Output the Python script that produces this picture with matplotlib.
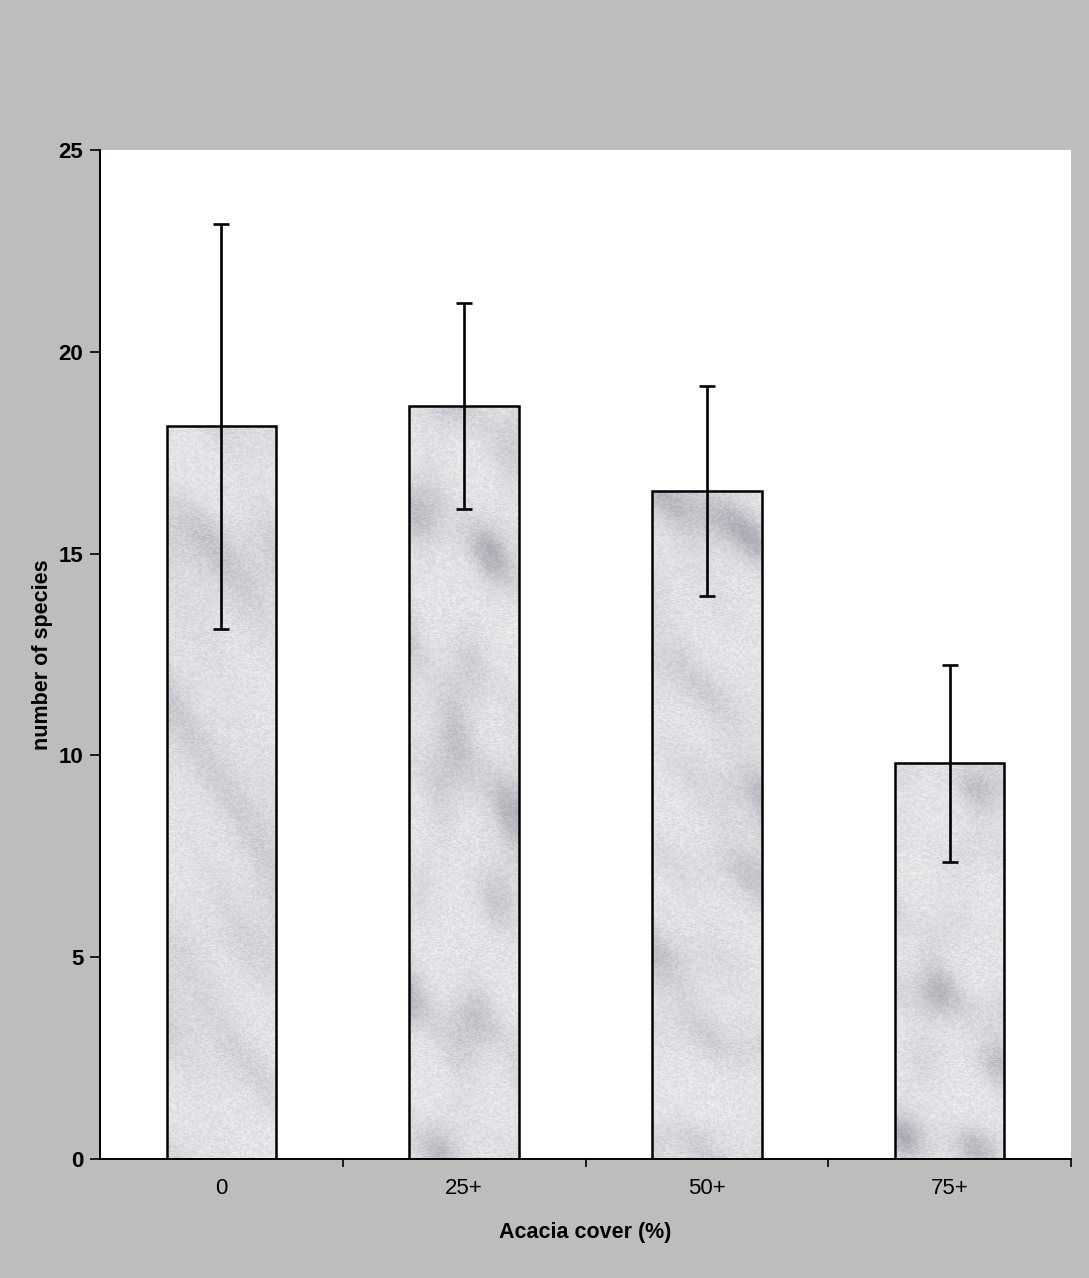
import matplotlib
matplotlib.use("Agg")
import matplotlib.pyplot as plt
import numpy as np

plt.rcParams['font.family'] = ['Liberation Sans', 'DejaVu Sans']

categories = ['0', '25+', '50+', '75+']
species = [18.15, 18.65, 16.55, 9.8]
errors = [5.02, 2.55, 2.6, 2.45]

bg_color = '#bebdbc'

fig = plt.figure(figsize=(10.89, 12.78), dpi=100, facecolor=bg_color)
ax = fig.add_axes([0.0918, 0.0931, 0.8917, 0.7895])
ax.set_facecolor('white')

x = np.arange(len(categories))
bars = ax.bar(x, species, width=0.45, color='none', edgecolor='black',
              linewidth=1.8, zorder=3)
ax.errorbar(x, species, yerr=errors, fmt='none', ecolor='black',
            elinewidth=1.9, capsize=6, capthick=1.9, zorder=4)

# marble-like fill for the bars (deterministic pattern + fine grain)
gx, gy = np.meshgrid(np.linspace(0, 1, 600), np.linspace(0, 1, 1000))
veins = (np.sin(23 * gx + 31 * gy + 2.0 * np.sin(9 * gy))
         + 0.7 * np.sin(41 * gx - 17 * gy + 3 * np.cos(13 * gx))
         + 0.5 * np.sin(67 * gx * gy + 29 * gy)
         + 0.4 * np.cos(90 * gx + 55 * gy))
veins = (veins - veins.min()) / (veins.max() - veins.min())
grain = np.sin(gx * 12989.8 + gy * 78233.0) * 43758.5453
grain = grain - np.floor(grain)
shade = 0.22 * veins ** 3 + 0.11 * grain
rgb = np.zeros(veins.shape + (3,))
rgb[..., 0] = 0.95 - shade
rgb[..., 1] = 0.95 - shade
rgb[..., 2] = 0.96 - 0.92 * shade
for bar in bars:
    img = ax.imshow(rgb, extent=[-0.5, 3.5, 0, 25], aspect='auto',
                    origin='lower', zorder=2, interpolation='bilinear')
    img.set_clip_path(bar)

ax.set_xlim(-0.5, 3.5)
ax.set_ylim(0, 25)
ax.set_yticks([0, 5, 10, 15, 20, 25])
ax.set_yticklabels(['0', '5', '10', '15', '20', '25'], fontsize=16,
                   fontweight='bold')
ax.set_xticks(x)
ax.set_xticklabels(categories, fontsize=16)
ax.set_xticks([0.5, 1.5, 2.5, 3.5], minor=True)
ax.tick_params(axis='x', which='major', length=0, pad=14)
ax.tick_params(axis='x', which='minor', length=6, width=1.2, direction='out')
ax.tick_params(axis='y', length=7, width=1.2, direction='out', pad=5)

for side in ['top', 'right']:
    ax.spines[side].set_visible(False)
for side in ['left', 'bottom']:
    ax.spines[side].set_linewidth(1.4)

ax.set_xlabel('Acacia cover (%)', fontsize=15.5, fontweight='bold', labelpad=16)
ax.set_ylabel('number of species', fontsize=15.5, fontweight='bold', labelpad=4)

fig.savefig('out.png', dpi=100, facecolor=bg_color)
